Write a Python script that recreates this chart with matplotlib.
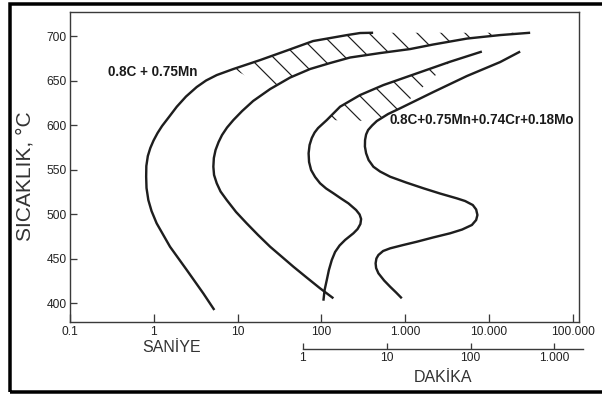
import numpy as np
import matplotlib.pyplot as plt
from matplotlib.patches import Rectangle
from matplotlib.ticker import NullLocator

plt.rcParams['font.family'] = ['Liberation Sans', 'DejaVu Sans']
plt.rcParams['hatch.linewidth'] = 1.2

# 0.8C + 0.75Mn : dönüşüm başlangıcı ve bitişi (saniye, °C)
mn_start_t = [5.27, 3.90, 2.47, 1.56, 1.08, 0.939, 0.86, 0.818, 0.81, 0.814, 0.848, 0.908, 0.992,
              1.107, 1.253, 1.498, 1.88, 2.42, 3.25, 4.20, 5.63, 8.89, 18.5, 38.5, 79.4, 202, 289, 413]
mn_start_T = [392.5, 411, 437.4, 463.5, 489.8, 503.6, 515.9, 529.4, 542.1, 554.1, 565.3, 574.3, 582.7,
              591.1, 599, 608.5, 620.7, 632.1, 642.8, 650.1, 656.2, 663, 673, 683.7, 694.4, 701.1,
              703.4, 703.7]
mn_end_t = [138.7, 96.2, 66.4, 46.2, 33.4, 24.4, 17.5, 12.8, 9.57, 7.41, 6.25, 5.63, 5.23, 5.13,
            5.20, 5.45, 5.92, 6.51, 7.47, 8.89, 11.3, 15.3, 24.4, 42.2, 73.1, 126.7, 219, 500,
            1141, 2148, 5462, 13530, 30850]
mn_end_T = [405.6, 416.8, 429, 441.1, 452.5, 463.5, 476.7, 489.8, 502.5, 515.9, 525.5, 534.7, 544,
            553.3, 563.1, 572.1, 581, 588.9, 597.3, 605.7, 615.8, 627.1, 640.5, 653.4, 663, 669.7,
            675.9, 680.9, 685.4, 690.5, 697.2, 701.1, 703.7]

# 0.8C + 0.75Mn + 0.74Cr + 0.18Mo
mo_start_t = [105.4, 108.9, 115.7, 122.6, 132.7, 145.3, 164.4, 191.3, 240.4, 269.7, 291.2, 297,
              284.9, 258.8, 209.5, 171.3, 138.7, 113.5, 96.2, 83.9, 75.2, 71.1, 70.2, 72.1, 76.6,
              82.8, 91.0, 115.7, 166.7, 289, 548, 1371, 3427, 8185]
mo_start_T = [402.9, 414.9, 426.2, 437.4, 448.6, 457.6, 464.9, 471.1, 478.6, 483.4, 489, 494.6,
              499.7, 504.7, 512.2, 517.6, 523.5, 528.9, 534.7, 541.8, 549.6, 558.6, 568.4, 577.7,
              585.5, 591.7, 596.7, 605.7, 620.7, 633.8, 645, 658.1, 671.2, 682.6]
mo_end_t = [908, 776.6, 659, 558.5, 477.5, 448.4, 442.2, 452, 477.5, 543.3, 659, 941.2, 1371, 2147,
            3427, 4762, 6223, 6998, 7248, 6998, 6383, 5170, 4119, 2602, 1644, 1022, 659, 500.3,
            416, 364.9, 340.6, 329.6, 331, 340.6, 359.8, 401.7, 457, 623.4, 867, 2163, 5420,
            13530, 23440]
mo_end_T = [405.6, 412.1, 418.6, 425.6, 433.7, 439.6, 444.9, 450.3, 454.2, 458.7, 461.7, 465.4,
            469.1, 473.9, 478.6, 482.8, 487.9, 493.5, 499.1, 505.3, 510.3, 514.8, 517.8, 523.2,
            529.1, 535.6, 542.1, 547.9, 553.3, 560.8, 568.4, 576, 583.3, 589.5, 594.5, 599.6,
            604.6, 612.5, 618.9, 637.2, 655.1, 670.8, 682.6]

saniye_ticks = [0.1, 1, 10, 100, 1000, 10000, 100000]
saniye_labels = ['0.1', '1', '10', '100', '1.000', '10.000', '100.000']
dakika_ticks = [1, 10, 100, 1000]
dakika_labels = ['1', '10', '100', '1.000']
sicaklik_ticks = [400, 450, 500, 550, 600, 650, 700]

line_col = '#1e1e1e'
axis_col = '#3a3a3a'

fig = plt.figure(figsize=(602 / 72, 394 / 72), dpi=72)
ax = fig.add_axes([70 / 602, 72 / 394, 509 / 602, 310 / 394])
ax.set_xscale('log')
ax.set_xlim(0.1, 1.18e5)
ax.set_ylim(379, 727)

for t, T in [(mn_start_t, mn_start_T), (mn_end_t, mn_end_T),
             (mo_start_t, mo_start_T), (mo_end_t, mo_end_T)]:
    ax.plot(t, T, color=line_col, lw=2.4, solid_joinstyle='round', solid_capstyle='butt')


def band(t_up, T_up, up_mask, t_lo, T_lo, lo_mask):
    t_up, T_up, t_lo, T_lo = map(np.asarray, (t_up, T_up, t_lo, T_lo))
    xs = np.concatenate([t_up[up_mask(T_up)], t_lo[lo_mask(T_lo)][::-1]])
    ys = np.concatenate([T_up[up_mask(T_up)], T_lo[lo_mask(T_lo)][::-1]])
    return xs, ys


# taralı bölgeler
xs, ys = band(mn_start_t, mn_start_T, lambda T: T >= 660,
              mn_end_t, mn_end_T, lambda T: T >= 637)
ax.fill(xs, ys, facecolor='none', edgecolor=line_col, lw=0, hatch='\\')
xs, ys = band(mo_start_t, mo_start_T, lambda T: (T >= 605) & (T <= 672),
              mo_end_t, mo_end_T, lambda T: (T >= 604) & (T <= 620))
ax.fill(xs, ys, facecolor='none', edgecolor=line_col, lw=0, hatch='\\')

ax.set_xticks(saniye_ticks, labels=saniye_labels)
ax.set_yticks(sicaklik_ticks)
ax.xaxis.set_minor_locator(NullLocator())
ax.tick_params(axis='both', direction='in', length=8, width=1.3, color=axis_col,
               labelsize=12, labelcolor='#222222')
ax.tick_params(axis='x', pad=4)
ax.tick_params(axis='y', pad=3, length=7)
for s in ax.spines.values():
    s.set_color(axis_col)
    s.set_linewidth(1.4)

secax = ax.secondary_xaxis(-27 / 310, functions=(lambda s: s / 60, lambda m: m * 60))
secax.set_xticks(dakika_ticks, labels=dakika_labels)
secax.xaxis.set_minor_locator(NullLocator())
secax.tick_params(direction='in', length=6, width=1.3, color=axis_col, pad=3,
                  labelsize=12, labelcolor='#222222')
secax.spines['bottom'].set_bounds(1, 2200)
secax.spines['bottom'].set_color(axis_col)
secax.spines['bottom'].set_linewidth(1.4)

ax.text((108 - 70) / 509, (322 - 72) / 310, '0.8C + 0.75Mn', transform=ax.transAxes,
        ha='left', va='center', fontsize=13.5, fontweight='bold', color='#1a1a1a')
ax.text((389 - 70) / 509, (322 - 120) / 310, '0.8C+0.75Mn+0.74Cr+0.18Mo', transform=ax.transAxes,
        ha='left', va='center', fontsize=13.5, fontweight='bold', color='#1a1a1a')

fig.text(172 / 602, 1 - 348 / 394, 'SANİYE', ha='center', va='center', fontsize=16, color='#333333')
fig.text(443 / 602, 1 - 378 / 394, 'DAKİKA', ha='center', va='center', fontsize=16, color='#333333')
fig.text(25 / 602, 1 - 176 / 394, 'SICAKLIK, °C', ha='center', va='center', rotation=90,
         fontsize=21, color='#333333')

fig.add_artist(Rectangle((9.5 / 602, 2 / 394), 620 / 602, 388.3 / 394, transform=fig.transFigure,
                         fill=False, lw=3.5, ec='black', clip_on=False))

fig.savefig('out.png', dpi=72, facecolor='white')
